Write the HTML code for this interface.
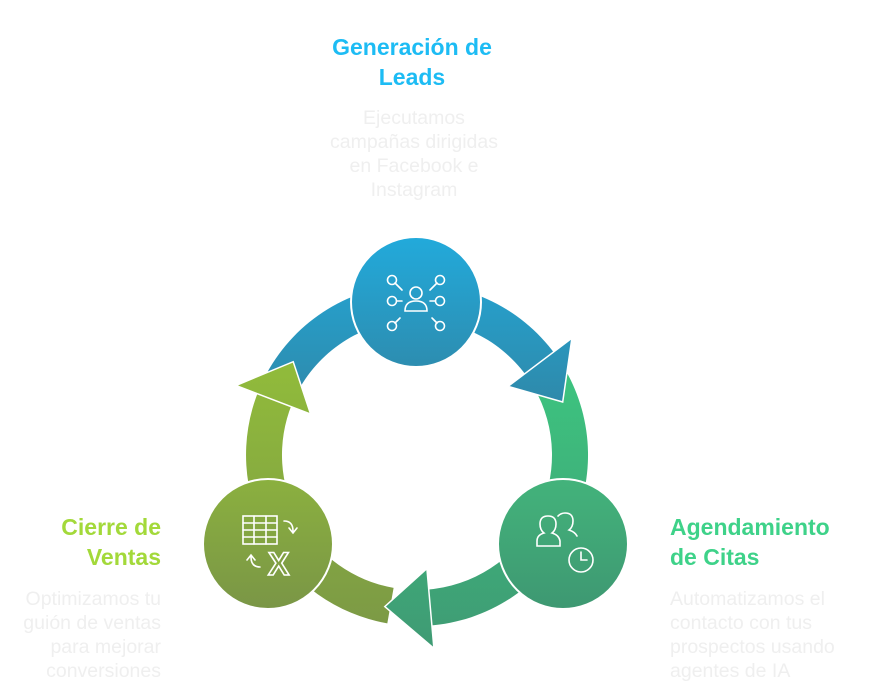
<!DOCTYPE html>
<html><head><meta charset="utf-8"><style>
html,body{margin:0;padding:0;background:#fff;width:871px;height:694px;overflow:hidden}
svg{position:absolute;left:0;top:0}
.t{font-family:"Liberation Sans",Arial,sans-serif;font-weight:bold;font-size:23px}
.d{font-family:"Liberation Sans",Arial,sans-serif;font-size:19.5px;fill:#efefef}
</style></head><body>
<svg id="s" width="871" height="694" viewBox="0 0 871 694">
<defs>
<linearGradient id="gb" gradientUnits="userSpaceOnUse" x1="0" y1="240" x2="0" y2="410"><stop offset="0" stop-color="#22a9da"/><stop offset="1" stop-color="#2f88a8"/></linearGradient>
<linearGradient id="gt" gradientUnits="userSpaceOnUse" x1="0" y1="380" x2="0" y2="650"><stop offset="0" stop-color="#3dc37f"/><stop offset="1" stop-color="#3f9a74"/></linearGradient>
<linearGradient id="go" gradientUnits="userSpaceOnUse" x1="0" y1="350" x2="0" y2="640"><stop offset="0" stop-color="#92bd3a"/><stop offset="1" stop-color="#7b9846"/></linearGradient>
<linearGradient id="cb" x1="0" y1="0" x2="0" y2="1"><stop offset="0" stop-color="#22aadb"/><stop offset="1" stop-color="#2d8db0"/></linearGradient>
<linearGradient id="ct" x1="0" y1="0" x2="0" y2="1"><stop offset="0" stop-color="#43b37b"/><stop offset="1" stop-color="#3e9872"/></linearGradient>
<linearGradient id="co" x1="0" y1="0" x2="0" y2="1"><stop offset="0" stop-color="#8bb03f"/><stop offset="1" stop-color="#7a9646"/></linearGradient>
</defs>
<g id="bands"></g><g id="heads"></g>
<circle cx="416" cy="302" r="65" fill="url(#cb)" stroke="#fff" stroke-width="2"/>
<circle cx="563" cy="544" r="65" fill="url(#ct)" stroke="#fff" stroke-width="2"/>
<circle cx="268" cy="544" r="65" fill="url(#co)" stroke="#fff" stroke-width="2"/>
<g fill="none" stroke="#fff" stroke-width="1.6" stroke-linecap="round">
<circle cx="416" cy="293" r="6"/><path d="M405 311 q0-10 11-10 q11 0 11 10 z"/>
<circle cx="392" cy="280" r="4.5"/><circle cx="440" cy="280" r="4.5"/>
<circle cx="392" cy="301" r="4.5"/><circle cx="440" cy="301" r="4.5"/>
<circle cx="392" cy="326" r="4.5"/><circle cx="440" cy="326" r="4.5"/>
<path d="M395 283 l7 7 M437 283 l-7 7 M397 301 h5 M435 301 h-5 M395 323 l5-5 M437 323 l-5-5"/>
<path d="M537 546 v-5 q0-6 7-8 q-4-3-4-9 q0-8 8-8 q8 0 8 8 q0 6-4 9 q7 2 8 8 v5 z"/>
<path d="M558 516 q3-3 7-3 q8 0 8 8 q0 6-4 9 q6 2 8 6"/>
<circle cx="581" cy="560" r="12"/><path d="M581 552 v8 h6"/>
<rect x="243" y="516" width="34" height="28"/><path d="M243 523 h34 M243 530 h34 M243 537 h34 M254 516 v28 M266 516 v28"/>
<path d="M284 521 q9 0 9 10 M289 528 l4 5 4-5"/>
<path d="M260 567 q-9 0-9-10 M247 560 l4-5 4 5"/>
</g>
<text x="268" y="575" fill="none" stroke="#fff" stroke-width="1.6" font-family="Liberation Sans,sans-serif" font-weight="bold" font-size="32">X</text>
<text class="t" fill="#1dbcf4" text-anchor="middle"><tspan x="412" y="55">Generación de</tspan><tspan x="412" y="85">Leads</tspan></text>
<text class="d" text-anchor="middle"><tspan x="414" y="124">Ejecutamos</tspan><tspan x="414" y="148">campañas dirigidas</tspan><tspan x="414" y="172">en Facebook e</tspan><tspan x="414" y="196">Instagram</tspan></text>
<text class="t" fill="#3ed289"><tspan x="670" y="535">Agendamiento</tspan><tspan x="670" y="565">de Citas</tspan></text>
<text class="d"><tspan x="670" y="605">Automatizamos el</tspan><tspan x="670" y="629">contacto con tus</tspan><tspan x="670" y="653">prospectos usando</tspan><tspan x="670" y="677">agentes de IA</tspan></text>
<text class="t" fill="#a3d93a" text-anchor="end"><tspan x="161" y="535">Cierre de</tspan><tspan x="161" y="565">Ventas</tspan></text>
<text class="d" text-anchor="end"><tspan x="161" y="605">Optimizamos tu</tspan><tspan x="161" y="629">guión de ventas</tspan><tspan x="161" y="653">para mejorar</tspan><tspan x="161" y="677">conversiones</tspan></text>
</svg>
<script>
var cx=417,cy=455,Ro=171,Ri=135,Ho=194,Hi=114,Rm=155;
function p(r,a){a=a*Math.PI/180;return (cx+r*Math.cos(a)).toFixed(1)+" "+(cy+r*Math.sin(a)).toFixed(1);}
function band(a1,a2,f){return '<path fill="'+f+'" d="M'+p(Ro,a1)+' A'+Ro+' '+Ro+' 0 0 1 '+p(Ro,a2)+' L'+p(Ri,a2)+' A'+Ri+' '+Ri+' 0 0 0 '+p(Ri,a1)+' Z"/>';}
function head(b,t,f){return '<path fill="'+f+'" stroke="#fff" stroke-width="1.5" d="M'+p(Ho,b)+' L'+p(Rm,t)+' L'+p(Hi,b)+' Z"/>';}
var segs=[[205,323,340,'url(#gb)'],[330,445,462,'url(#gt)'],[460,561,577,'url(#go)']];
var B='',H='';
segs.forEach(function(s){B+=band(s[0],s[1]+1,s[3]);H+=head(s[1],s[2],s[3]);});
document.getElementById('bands').innerHTML=B;
document.getElementById('heads').innerHTML=H;
</script>
</body></html>
